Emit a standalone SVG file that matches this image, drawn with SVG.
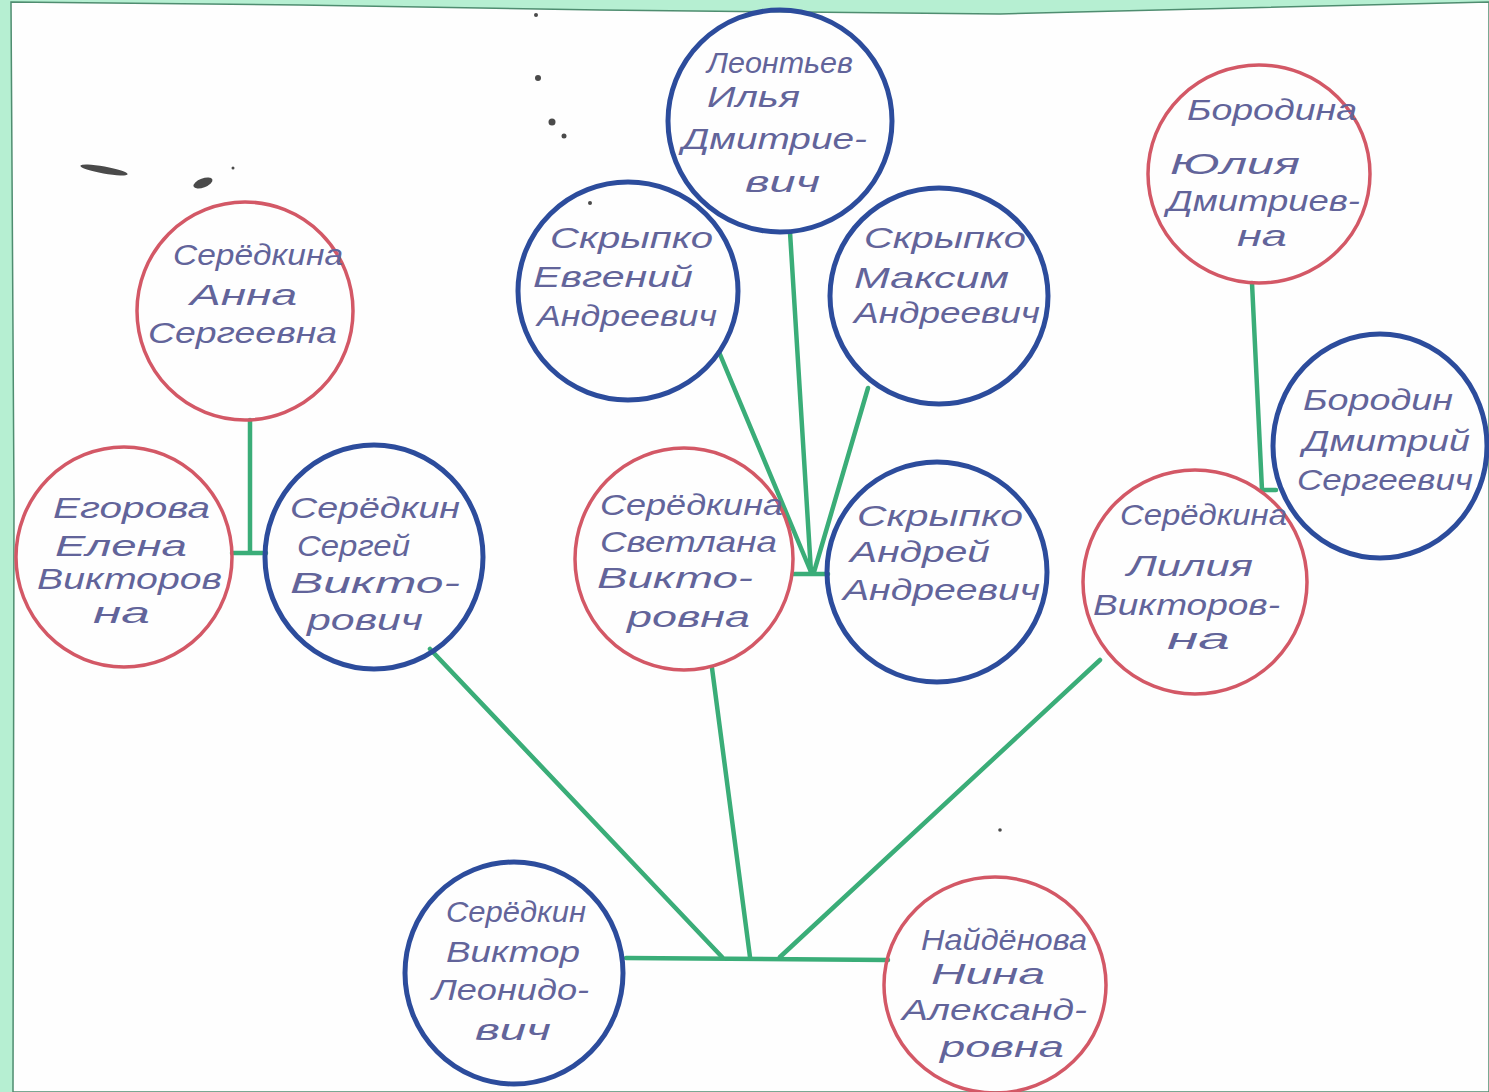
<svg xmlns="http://www.w3.org/2000/svg" width="1489" height="1092" viewBox="0 0 1489 1092">
<style>
.red{fill:none;stroke:#d35866;stroke-width:3.5}
.blue{fill:none;stroke:#2c4c9c;stroke-width:5}
.t{font-family:"Liberation Sans","DejaVu Sans",sans-serif;font-style:italic;font-size:30px;fill:#62649a}
.c{fill:none;stroke:#3aad78;stroke-width:4.5;stroke-linecap:round;stroke-linejoin:round}
.dot{fill:#4a4a4a}
</style>
<rect x="0" y="0" width="1489" height="1092" fill="#b6efd2"/>
<path d="M11,2 L300,5 L600,10 L800,12 L1000,14 L1200,9 L1489,2 L1489,1092 L13,1092 L14,500 Z" fill="#fefefe" stroke="#4f8d70" stroke-width="1.5"/>
<g id="marks">
<ellipse class="dot" cx="104" cy="170" rx="24" ry="3.5" transform="rotate(10 104 170)"/>
<ellipse class="dot" cx="203" cy="183" rx="10" ry="4.5" transform="rotate(-20 203 183)"/>
<circle class="dot" cx="233" cy="168" r="1.5"/>
<circle class="dot" cx="538" cy="78" r="3"/>
<circle class="dot" cx="552" cy="122" r="3.5"/>
<circle class="dot" cx="564" cy="136" r="2.5"/>
<circle class="dot" cx="536" cy="15" r="2"/>
<circle class="dot" cx="590" cy="203" r="2"/>
<circle class="dot" cx="1000" cy="830" r="1.8"/>
</g>
<g id="connectors">
<path class="c" d="M250,420 V553 M232,553 H266"/>
<path class="c" d="M790,232 L811,572"/>
<path class="c" d="M719,352 L811,572"/>
<path class="c" d="M868,388 L814,572"/>
<path class="c" d="M793,574 H828"/>
<path class="c" d="M1252,283 L1262,490 H1276"/>
<path class="c" d="M626,958 L888,960"/>
<path class="c" d="M430,649 L722,957"/>
<path class="c" d="M712,668 L750,957"/>
<path class="c" d="M1100,660 L780,957"/>
</g>
<g id="anna">
<ellipse class="red" cx="245" cy="311" rx="108" ry="109"/>
<text class="t" x="173" y="265" textLength="170" lengthAdjust="spacingAndGlyphs">Серёдкина</text>
<text class="t" x="190" y="305" textLength="107" lengthAdjust="spacingAndGlyphs">Анна</text>
<text class="t" x="148" y="343" textLength="189" lengthAdjust="spacingAndGlyphs">Сергеевна</text>
</g>
<g id="egorova">
<ellipse class="red" cx="124" cy="557" rx="108" ry="110"/>
<text class="t" x="53" y="518" textLength="157" lengthAdjust="spacingAndGlyphs">Егорова</text>
<text class="t" x="55" y="556" textLength="132" lengthAdjust="spacingAndGlyphs">Елена</text>
<text class="t" x="37" y="589" textLength="185" lengthAdjust="spacingAndGlyphs">Викторов</text>
<text class="t" x="93" y="623" textLength="57" lengthAdjust="spacingAndGlyphs">на</text>
</g>
<g id="sergei">
<ellipse class="blue" cx="374" cy="557" rx="109" ry="112"/>
<text class="t" x="290" y="518" textLength="170" lengthAdjust="spacingAndGlyphs">Серёдкин</text>
<text class="t" x="297" y="556" textLength="113" lengthAdjust="spacingAndGlyphs">Сергей</text>
<text class="t" x="290" y="593" textLength="170" lengthAdjust="spacingAndGlyphs">Викто-</text>
<text class="t" x="307" y="630" textLength="116" lengthAdjust="spacingAndGlyphs">рович</text>
</g>
<g id="leontiev">
<ellipse class="blue" cx="780" cy="121" rx="112" ry="111"/>
<text class="t" x="707" y="73" textLength="146" lengthAdjust="spacingAndGlyphs">Леонтьев</text>
<text class="t" x="707" y="107" textLength="93" lengthAdjust="spacingAndGlyphs">Илья</text>
<text class="t" x="682" y="149" textLength="185" lengthAdjust="spacingAndGlyphs">Дмитрие-</text>
<text class="t" x="745" y="192" textLength="75" lengthAdjust="spacingAndGlyphs">вич</text>
</g>
<g id="evgeny">
<ellipse class="blue" cx="628" cy="291" rx="110" ry="109"/>
<text class="t" x="550" y="248" textLength="163" lengthAdjust="spacingAndGlyphs">Скрыпко</text>
<text class="t" x="533" y="287" textLength="160" lengthAdjust="spacingAndGlyphs">Евгений</text>
<text class="t" x="537" y="326" textLength="180" lengthAdjust="spacingAndGlyphs">Андреевич</text>
</g>
<g id="maksim">
<ellipse class="blue" cx="939" cy="296" rx="109" ry="108"/>
<text class="t" x="864" y="248" textLength="162" lengthAdjust="spacingAndGlyphs">Скрыпко</text>
<text class="t" x="854" y="288" textLength="155" lengthAdjust="spacingAndGlyphs">Максим</text>
<text class="t" x="854" y="323" textLength="186" lengthAdjust="spacingAndGlyphs">Андреевич</text>
</g>
<g id="svetlana">
<ellipse class="red" cx="684" cy="559" rx="109" ry="111"/>
<text class="t" x="600" y="515" textLength="183" lengthAdjust="spacingAndGlyphs">Серёдкина</text>
<text class="t" x="600" y="552" textLength="177" lengthAdjust="spacingAndGlyphs">Светлана</text>
<text class="t" x="597" y="588" textLength="156" lengthAdjust="spacingAndGlyphs">Викто-</text>
<text class="t" x="627" y="627" textLength="123" lengthAdjust="spacingAndGlyphs">ровна</text>
</g>
<g id="andrei">
<ellipse class="blue" cx="937" cy="572" rx="110" ry="110"/>
<text class="t" x="857" y="526" textLength="166" lengthAdjust="spacingAndGlyphs">Скрыпко</text>
<text class="t" x="850" y="562" textLength="140" lengthAdjust="spacingAndGlyphs">Андрей</text>
<text class="t" x="843" y="600" textLength="197" lengthAdjust="spacingAndGlyphs">Андреевич</text>
</g>
<g id="borodina">
<ellipse class="red" cx="1259" cy="174" rx="111" ry="109"/>
<text class="t" x="1187" y="120" textLength="170" lengthAdjust="spacingAndGlyphs">Бородина</text>
<text class="t" x="1170" y="174" textLength="130" lengthAdjust="spacingAndGlyphs">Юлия</text>
<text class="t" x="1167" y="211" textLength="193" lengthAdjust="spacingAndGlyphs">Дмитриев-</text>
<text class="t" x="1237" y="246" textLength="50" lengthAdjust="spacingAndGlyphs">на</text>
</g>
<g id="borodin">
<ellipse class="blue" cx="1380" cy="446" rx="107" ry="112"/>
<text class="t" x="1303" y="410" textLength="150" lengthAdjust="spacingAndGlyphs">Бородин</text>
<text class="t" x="1303" y="451" textLength="167" lengthAdjust="spacingAndGlyphs">Дмитрий</text>
<text class="t" x="1297" y="490" textLength="176" lengthAdjust="spacingAndGlyphs">Сергеевич</text>
</g>
<g id="liliya">
<ellipse class="red" cx="1195" cy="582" rx="112" ry="112"/>
<text class="t" x="1120" y="525" textLength="167" lengthAdjust="spacingAndGlyphs">Серёдкина</text>
<text class="t" x="1127" y="576" textLength="126" lengthAdjust="spacingAndGlyphs">Лилия</text>
<text class="t" x="1093" y="615" textLength="187" lengthAdjust="spacingAndGlyphs">Викторов-</text>
<text class="t" x="1167" y="649" textLength="63" lengthAdjust="spacingAndGlyphs">на</text>
</g>
<g id="viktor">
<ellipse class="blue" cx="514" cy="973" rx="109" ry="111"/>
<text class="t" x="446" y="922" textLength="140" lengthAdjust="spacingAndGlyphs">Серёдкин</text>
<text class="t" x="446" y="962" textLength="134" lengthAdjust="spacingAndGlyphs">Виктор</text>
<text class="t" x="432" y="1000" textLength="157" lengthAdjust="spacingAndGlyphs">Леонидо-</text>
<text class="t" x="475" y="1040" textLength="76" lengthAdjust="spacingAndGlyphs">вич</text>
</g>
<g id="nina">
<ellipse class="red" cx="995" cy="985" rx="111" ry="108"/>
<text class="t" x="921" y="950" textLength="166" lengthAdjust="spacingAndGlyphs">Найдёнова</text>
<text class="t" x="931" y="984" textLength="114" lengthAdjust="spacingAndGlyphs">Нина</text>
<text class="t" x="902" y="1020" textLength="185" lengthAdjust="spacingAndGlyphs">Александ-</text>
<text class="t" x="940" y="1057" textLength="124" lengthAdjust="spacingAndGlyphs">ровна</text>
</g>
</svg>
